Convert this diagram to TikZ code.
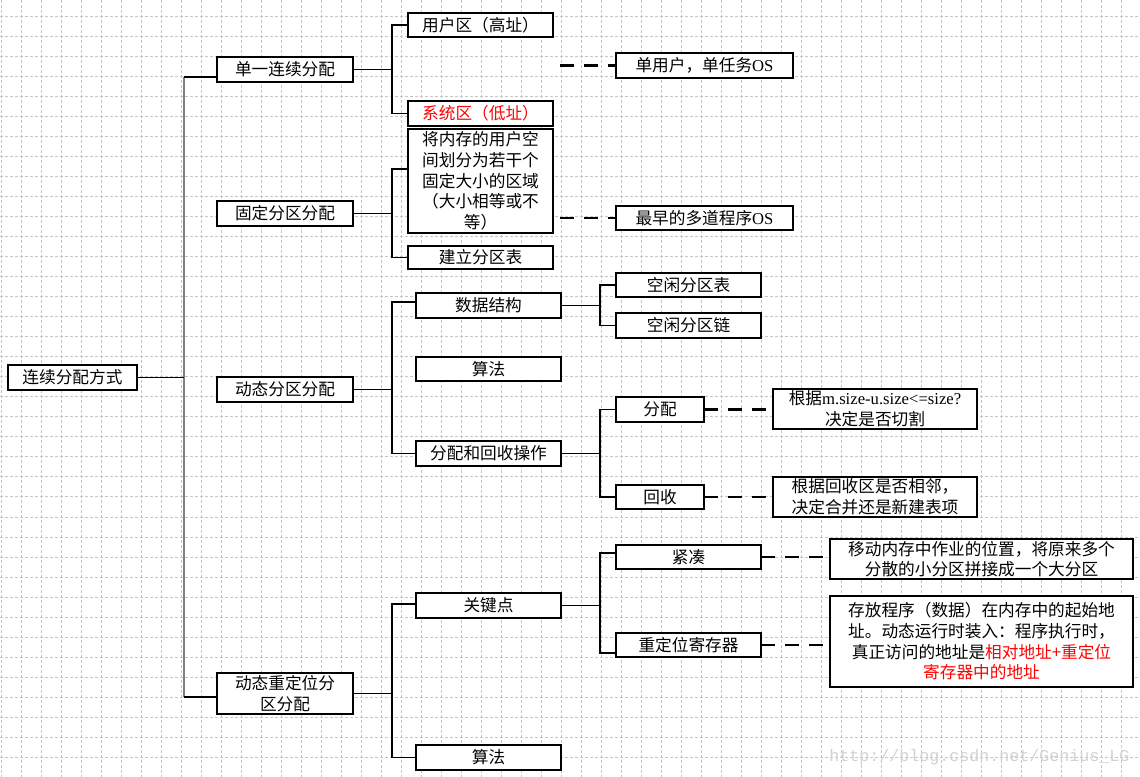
\documentclass[tikz,border=0pt]{standalone}
\usepackage{fontspec}
\setmainfont{Liberation Serif}
\setmonofont{Liberation Mono}
\newfontfamily\cjk{Noto Sans CJK SC}
\usetikzlibrary{calc}
\tikzset{
  gridline/.style={gray!45, line width=0.75pt, dash pattern=on 2.25pt off 1.5pt},
  box/.style={draw=black, fill=white, line width=1.5pt, inner sep=0pt, outer sep=0pt,
    align=center, font=\cjk\fontsize{12.5}{15.5}\selectfont},
  conn/.style={black, line width=0.9pt},
  trunkline/.style={gray, line width=1.6pt},
  dashconn/.style={black, line width=1.6pt, dash pattern=on 10.5pt off 7.5pt},
}
\newcommand\bx[6]{%
  \pgfmathsetmacro\bw{(#4-#2)*0.75}%
  \pgfmathsetmacro\bh{(#5-#3)*0.75}%
  \node[box, minimum width=\bw pt, minimum height=\bh pt] (#1) at ({(#2+#4)/2},{(#3+#5)/2}) {#6};}
\begin{document}
\begin{tikzpicture}[x=0.75pt,y=-0.75pt]
\useasboundingbox (0,0) rectangle (1140,777);
\fill[white] (0,0) rectangle (1140,777);
% grid
\foreach \i in {0,...,56} \draw[gridline] ({1+20*\i},0) -- ({1+20*\i},777);
\foreach \j in {0,...,38} \draw[gridline] (0,{17+20*\j}) -- (1140,{17+20*\j});
% watermark
\node[anchor=west, inner sep=0pt, text=gray!35, font=\ttfamily\fontsize{12.5}{12.5}\selectfont] (wm) at (829,757) {http://blog.csdn.net/Genius\_LG};
% nodes
\bx{root}{8}{365}{137}{390}{连续分配方式}
\bx{a1}{217}{57}{353}{82}{单一连续分配}
\bx{a2}{217}{201}{353}{226}{固定分区分配}
\bx{a3}{217}{377}{353}{402}{动态分区分配}
\bx{a4}{217}{673}{353}{714}{动态重定位分\\区分配}
\bx{b1}{408}{13}{553}{37}{用户区（高址）}
\bx{b2}{408}{101}{553}{126}{\color{red}系统区（低址）}
\bx{b3}{408}{129}{553}{233}{将内存的用户空\\间划分为若干个\\固定大小的区域\\（大小相等或不\\等）}
\bx{b4}{408}{246}{553}{269}{建立分区表}
\bx{c1}{616}{53}{793}{78}{单用户，单任务{\rmfamily OS}}
\bx{c2}{616}{206}{793}{230}{最早的多道程序{\rmfamily OS}}
\bx{b5}{416}{293}{561}{318}{数据结构}
\bx{b6}{416}{357}{561}{381}{算法}
\bx{b7}{416}{441}{561}{466}{分配和回收操作}
\bx{d1}{616}{273}{761}{297}{空闲分区表}
\bx{d2}{616}{313}{761}{338}{空闲分区链}
\bx{d3}{616}{397}{704}{422}{分配}
\bx{d4}{616}{485}{704}{509}{回收}
\bx{e1}{773}{389}{977}{429}{根据{\rmfamily m.size-u.size<=size?}\\决定是否切割}
\bx{e2}{773}{477}{977}{517}{根据回收区是否相邻，\\决定合并还是新建表项}
\bx{b8}{416}{593}{561}{618}{关键点}
\bx{b9}{416}{745}{561}{770}{算法}
\bx{d5}{616}{545}{761}{569}{紧凑}
\bx{d6}{616}{633}{761}{657}{重定位寄存器}
\bx{e3}{830}{539}{1133}{579}{移动内存中作业的位置，将原来多个\\分散的小分区拼接成一个大分区}
\bx{e4}{830}{596}{1133}{687}{存放程序（数据）在内存中的起始地\\址。动态运行时装入：程序执行时，\\真正访问的地址是{\color{red}相对地址+重定位}\\{\color{red}寄存器中的地址}}
% trunk
\coordinate (t0) at (184,377.5);
\coordinate (t1) at (184,77);
\coordinate (t2) at (184,697);
\draw[trunkline] (t1) -- (t2);
\draw[conn] (root.east) -- (t0);
\draw[conn] (t1) -- (t1 -| a1.west);
\draw[conn] (t2) -- (t2 -| a4.west);
% brackets level 2
\coordinate (j1) at (392,69.5);
\draw[conn] (a1.east) -- (j1);
\draw[conn] (b1.west) -| (j1) |- (b2.west);
\coordinate (j2) at (392,213.5);
\coordinate (b3in) at ($(b3.north west)+(0,40)$);
\draw[conn] (a2.east) -- (j2);
\draw[conn] (b3in) -| (j2) |- (b4.west);
\coordinate (j3) at (392,389.5);
\coordinate (b5in) at ($(b5.west)+(0,-3.5)$);
\draw[conn] (a3.east) -- (j3);
\draw[conn] (b5in) -| (j3) |- (b7.west);
\coordinate (j4) at (392,693.5);
\coordinate (b8in) at ($(b8.west)+(0,-1.5)$);
\draw[conn] (a4.east) -- (j4);
\draw[conn] (b8in) -| (j4) |- (b9.west);
% brackets level 3
\coordinate (k1) at (600,305.5);
\draw[conn] (b5.east) -- (k1);
\draw[conn] (d1.west) -| (k1) |- (d2.west);
\coordinate (k2) at (600,453.5);
\draw[conn] (b7.east) -- (k2);
\draw[conn] (d3.west) -| (k2) |- (d4.west);
\coordinate (k3) at (600,605.5);
\coordinate (d5in) at ($(d5.west)+(0,-4)$);
\coordinate (d6in) at ($(d6.west)+(0,8)$);
\draw[conn] (b8.east) -- (k3);
\draw[conn] (d5in) -| (k3) |- (d6in);
% dashed links
\coordinate (s1) at (560,65.5);
\coordinate (s2) at (560,218);
\draw[dashconn] (s1) -- (c1.west);
\draw[dashconn] (s2) -- (c2.west);
\draw[dashconn] (d3.east) -- (d3.east -| e1.west);
\draw[dashconn] (d4.east) -- (d4.east -| e2.west);
\draw[dashconn] (d5.east) -- (d5.east -| e3.west);
\draw[dashconn] (d6.east) -- (d6.east -| e4.west);
\end{tikzpicture}
\end{document}
